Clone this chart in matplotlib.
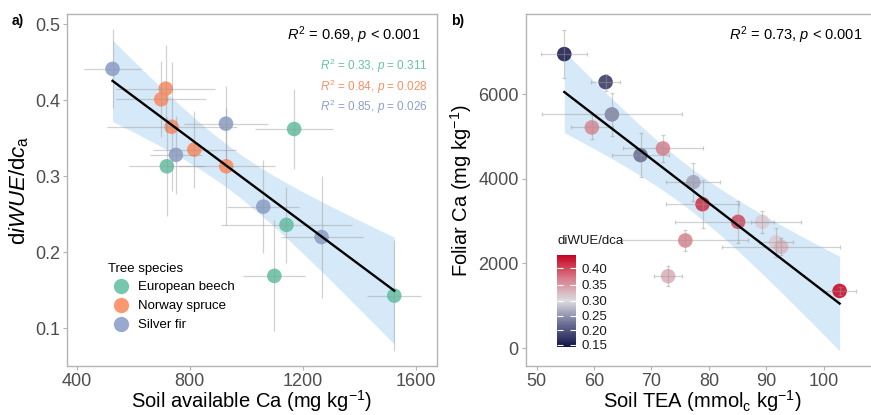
import numpy as np
import matplotlib
matplotlib.use("Agg")
import matplotlib.pyplot as plt
from matplotlib.colors import LinearSegmentedColormap, TwoSlopeNorm
from matplotlib.lines import Line2D

plt.rcParams['font.family'] = ['Liberation Sans', 'DejaVu Sans']
plt.rcParams['mathtext.fontset'] = 'custom'
plt.rcParams['mathtext.rm'] = 'Liberation Sans'
plt.rcParams['mathtext.it'] = 'Liberation Sans:italic'
plt.rcParams['mathtext.bf'] = 'Liberation Sans:bold'

# ---- panel a: soil available Ca vs diWUE/dca, per species
species = ['Silver fir', 'Norway spruce', 'Norway spruce', 'Norway spruce', 'Silver fir',
           'European beech', 'Norway spruce', 'Silver fir', 'European beech', 'Norway spruce',
           'Silver fir', 'European beech', 'Silver fir', 'European beech', 'European beech']
soil_ca = [527, 715, 699, 736, 928, 1169, 816, 751, 719, 929, 1060, 1142, 1266, 1099, 1523]
soil_ca_err = [100, 175, 160, 230, 150, 138, 147, 91, 132, 171, 127, 232, 145, 110, 95]
diwue = [0.441, 0.415, 0.401, 0.365, 0.369, 0.362, 0.335, 0.328, 0.313, 0.313,
         0.260, 0.236, 0.220, 0.169, 0.143]
diwue_err = [0.052, 0.057, 0.050, 0.085, 0.050, 0.053, 0.051, 0.051, 0.065, 0.077,
             0.061, 0.050, 0.080, 0.073, 0.073]

species_order = ['European beech', 'Norway spruce', 'Silver fir']
species_colors = {'European beech': '#66C2A5', 'Norway spruce': '#FC8D62', 'Silver fir': '#8DA0CB'}
species_stats = ['$R^2$ = 0.33, $p$ = 0.311', '$R^2$ = 0.84, $p$ = 0.028', '$R^2$ = 0.85, $p$ = 0.026']

# ---- panel b: soil TEA vs foliar Ca, coloured by diWUE/dca
tea = [54.8, 62.0, 63.1, 59.6, 68.1, 72.0, 77.3, 78.9, 85.1, 89.3, 91.7, 92.6, 75.9, 72.9, 102.8]
tea_err = [4.0, 2.5, 12.2, 3.7, 5.0, 7.0, 4.7, 6.4, 11.0, 2.0, 3.0, 10.3, 11.0, 2.5, 2.9]
foliar_ca = [6954, 6291, 5527, 5219, 4564, 4722, 3924, 3404, 2985, 2985, 2497, 2393, 2544, 1700, 1351]
foliar_ca_err = [570, 200, 510, 285, 520, 315, 450, 570, 500, 260, 343, 200, 245, 240, 100]
diwue_b = [0.143, 0.169, 0.236, 0.362, 0.220, 0.369, 0.260, 0.415, 0.401, 0.313,
           0.313, 0.328, 0.365, 0.335, 0.441]

T_CRIT = 2.160  # t(0.975, df=13)


def lm_band(x, y, xs):
    x = np.asarray(x, float)
    y = np.asarray(y, float)
    b, a = np.polyfit(x, y, 1)
    res = y - (a + b * x)
    s = np.sqrt(np.sum(res ** 2) / (len(x) - 2))
    se = s * np.sqrt(1 / len(x) + (xs - x.mean()) ** 2 / np.sum((x - x.mean()) ** 2))
    fit = a + b * xs
    return fit, fit - T_CRIT * se, fit + T_CRIT * se


def style_axes(ax):
    for sp in ax.spines.values():
        sp.set_color('#B3B3B3')
        sp.set_linewidth(1.0)
    ax.tick_params(colors='#B3B3B3', labelcolor='#4D4D4D', labelsize=13, length=3, width=0.8, pad=2)


fig = plt.figure(figsize=(8.71, 4.15), dpi=100)
ax1 = fig.add_axes([0.0769, 0.118, 0.4248, 0.848])
ax2 = fig.add_axes([0.6036, 0.118, 0.4045, 0.848])

band_color = '#D6E9F8'
err_kw = dict(fmt='none', ecolor='#9A9A9A', alpha=0.45, elinewidth=0.9, zorder=4)

# panel a
xs = np.linspace(min(soil_ca), max(soil_ca), 100)
fit, lo, hi = lm_band(soil_ca, diwue, xs)
ax1.fill_between(xs, lo, hi, color=band_color, lw=0, zorder=1)
ax1.plot(xs, fit, color='black', lw=1.7, zorder=5)
cols = [species_colors[s] for s in species]
ax1.scatter(soil_ca, diwue, s=110, c=cols, alpha=0.9, linewidths=0, zorder=3)
ax1.errorbar(soil_ca, diwue, xerr=soil_ca_err, yerr=diwue_err, **err_kw)
ax1.set_xlim(366, 1674)
ax1.set_ylim(0.0505, 0.513)
ax1.set_xticks([400, 800, 1200, 1600])
ax1.set_yticks([0.1, 0.2, 0.3, 0.4, 0.5])
style_axes(ax1)
ax1.set_xlabel('Soil available Ca (mg kg$^{-1}$)', fontsize=14.5, labelpad=-1)
ax1.set_ylabel(r'd$\it{iWUE}$/d$c_\mathrm{a}$', fontsize=16, labelpad=3)
ax1.text(0.955, 0.94, '$R^2$ = 0.69, $p$ < 0.001', transform=ax1.transAxes,
         ha='right', va='center', fontsize=10.5, color='black')
for i, (sp, txt) in enumerate(zip(species_order, species_stats)):
    ax1.text(0.975, 0.853 - i * 0.059, txt, transform=ax1.transAxes, ha='right', va='center',
             fontsize=8.5, color=species_colors[sp])
handles = [Line2D([], [], ls='none', marker='o', markersize=11, markerfacecolor=species_colors[s],
                  markeredgewidth=0, alpha=0.9) for s in species_order]
leg = ax1.legend(handles, species_order, title='Tree species', loc='upper left',
                 bbox_to_anchor=(0.085, 0.32), frameon=False, fontsize=9.5, title_fontsize=9.5,
                 handletextpad=0.3, labelspacing=0.5, borderpad=0.2)
leg._legend_box.align = 'left'

# panel b
cmap = LinearSegmentedColormap.from_list('diwue', ['#131347', '#6A6F93', '#DCDCE2', '#D77A88', '#C8001E'])
norm = TwoSlopeNorm(vmin=min(diwue_b), vcenter=0.30, vmax=max(diwue_b))
xs = np.linspace(min(tea), max(tea), 100)
fit, lo, hi = lm_band(tea, foliar_ca, xs)
ax2.fill_between(xs, lo, hi, color=band_color, lw=0, zorder=1)
ax2.plot(xs, fit, color='black', lw=1.7, zorder=5)
sc = ax2.scatter(tea, foliar_ca, s=110, c=diwue_b, cmap=cmap, norm=norm, alpha=0.85,
                 linewidths=0, zorder=3)
ax2.errorbar(tea, foliar_ca, xerr=tea_err, yerr=foliar_ca_err, capsize=1.5, capthick=0.9, **err_kw)
ax2.set_xlim(48.08, 109.5)
ax2.set_ylim(-426, 7900)
ax2.set_xticks([50, 60, 70, 80, 90, 100])
ax2.set_yticks([0, 2000, 4000, 6000])
style_axes(ax2)
ax2.set_xlabel('Soil TEA (mmol$_\\mathrm{c}$ kg$^{-1}$)', fontsize=14.5, labelpad=-1)
ax2.set_ylabel('Foliar Ca (mg kg$^{-1}$)', fontsize=14.5, labelpad=3)
ax2.text(0.955, 0.94, '$R^2$ = 0.73, $p$ < 0.001', transform=ax2.transAxes,
         ha='right', va='center', fontsize=10.5, color='black')

cax = fig.add_axes([0.6395, 0.164, 0.0218, 0.222])
cb = fig.colorbar(sc, cax=cax)
cb.solids.set_alpha(1)
cb.outline.set_visible(False)
cb.set_ticks([0.15, 0.20, 0.25, 0.30, 0.35, 0.40])
cb.ax.yaxis.set_major_formatter(matplotlib.ticker.FormatStrFormatter('%.2f'))
cb.ax.tick_params(color='white', direction='in', length=4, width=0.8, labelsize=9.5,
                  labelcolor='#1A1A1A', left=True, pad=4)
fig.text(0.6395, 0.405, 'diWUE/dca', fontsize=9.5, ha='left', va='bottom', color='#1A1A1A')

fig.text(0.013, 0.95, 'a)', fontsize=10, fontweight='bold', ha='left', va='center')
fig.text(0.518, 0.95, 'b)', fontsize=10, fontweight='bold', ha='left', va='center')

fig.savefig('out.png', dpi=100)
